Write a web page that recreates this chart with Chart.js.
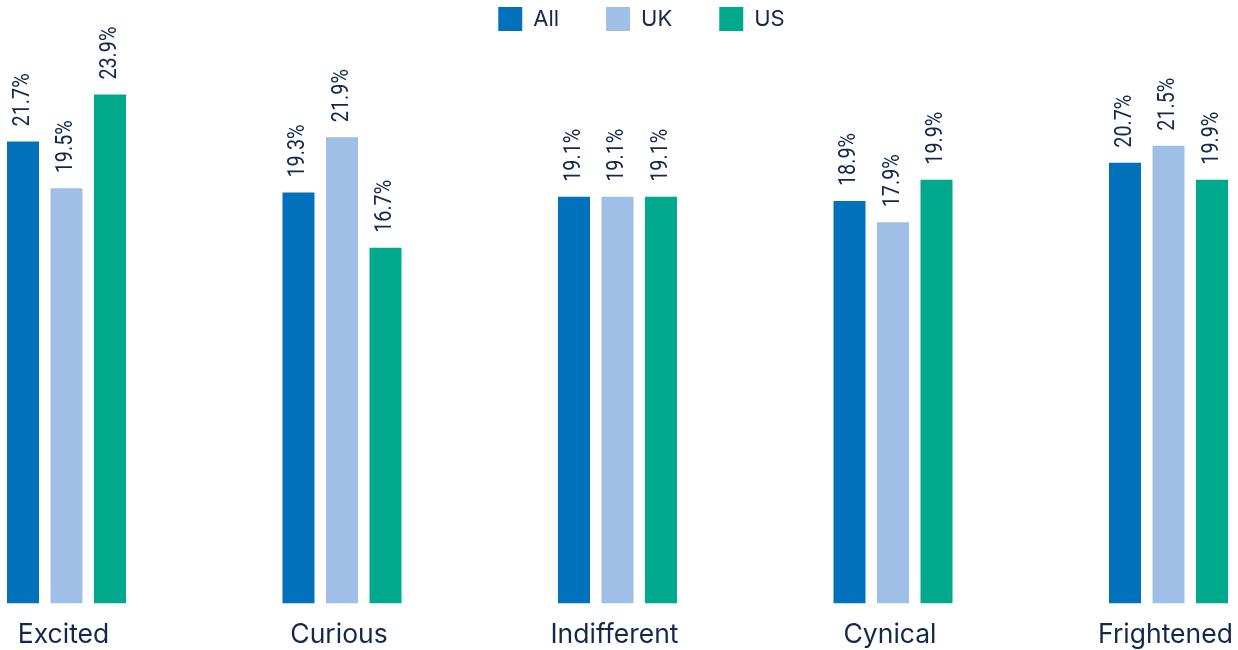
<!DOCTYPE html>
<html>
<head>
<meta charset="utf-8">
<script src="https://cdn.jsdelivr.net/npm/chart.js@4.4.1/dist/chart.umd.min.js"></script>
<style>
  html, body { margin: 0; padding: 0; background: #fff; }
  #wrap { width: 1238px; height: 650px; position: relative; }
</style>
</head>
<body>
<div id="wrap"><canvas id="chart"></canvas></div>
<script>
// survey answers, share of respondents per feeling
var categories = ['Excited', 'Curious', 'Indifferent', 'Cynical', 'Frightened'];
var allValues = [21.7, 19.3, 19.1, 18.9, 20.7];
var ukValues = [19.5, 21.9, 19.1, 17.9, 21.5];
var usValues = [23.9, 16.7, 19.1, 19.9, 19.9];
var seriesNames = ['All', 'UK', 'US'];
var seriesColors = ['#0071BA', '#A0BFE6', '#00A98C'];

var navy = '#13284B';

function makeSet(i, values) {
    return {
        label: seriesNames[i],
        data: values,
        backgroundColor: seriesColors[i],
        borderWidth: 0,
        clip: false,
        categoryPercentage: 0.4737,
        barPercentage: 0.7356
    };
}

// rotated percentage above each bar
const valueLabels = {
    id: 'valueLabels',
    afterDatasetsDraw(chart) {
        const ctx = chart.ctx;
        chart.data.datasets.forEach((ds, i) => {
            chart.getDatasetMeta(i).data.forEach((bar, j) => {
                ctx.save();
                ctx.translate(bar.x, bar.y - 15);
                ctx.rotate(-Math.PI / 2);
                ctx.scale(0.86, 1);
                ctx.font = '23px Roboto';
                ctx.fillStyle = navy;
                ctx.textAlign = 'left';
                ctx.textBaseline = 'middle';
                ctx.fillText(ds.data[j].toFixed(1) + '%', 0, 0);
                ctx.restore();
            });
        });
    }
};

// legend sits a little right of centre
const legendShift = {
    id: 'legendShift',
    afterLayout(chart) {
        chart.legend.left += 24;
        chart.legend.right += 24;
    }
};

const config = {
    type: 'bar',
    data: {
        labels: categories,
        datasets: [
            makeSet(0, allValues),
            makeSet(1, ukValues),
            makeSet(2, usValues)
        ]
    },
    options: {
        responsive: true,
        maintainAspectRatio: false,
        animation: false,
        layout: {
            padding: { left: 66.5, right: 69.5, top: -40, bottom: -17 }
        },
        plugins: {
            legend: {
                position: 'top',
                labels: {
                    boxWidth: 24,
                    boxHeight: 24,
                    padding: 47,
                    color: navy,
                    font: { family: 'Inter', size: 22 }
                }
            },
            tooltip: { enabled: false }
        },
        scales: {
            x: {
                offset: false,
                grid: { display: false, drawTicks: false },
                border: { display: false },
                ticks: {
                    color: navy,
                    padding: 16,
                    labelOffset: -3,
                    maxRotation: 0,
                    autoSkip: false,
                    font: { family: 'Inter', size: 26.5 }
                },
                // edge labels should not push the plot inward
                afterFit: (scale) => {
                    scale.paddingLeft = 0;
                    scale.paddingRight = 0;
                }
            },
            y: {
                display: false,
                min: 0,
                max: 26.42
            }
        }
    },
    plugins: [valueLabels, legendShift]
};

var chartvar = new Chart(document.getElementById('chart'), config);
</script>
</body>
</html>
